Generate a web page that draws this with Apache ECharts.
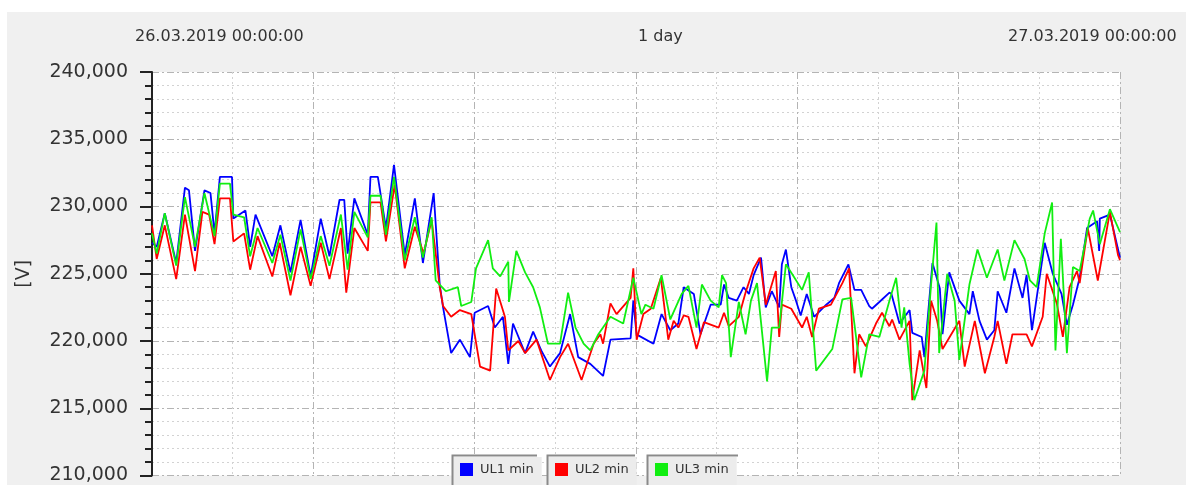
<!DOCTYPE html>
<html>
<head>
<meta charset="utf-8">
<script src="https://cdn.jsdelivr.net/npm/echarts@6/dist/echarts.min.js"></script>
<style>
html,body{margin:0;padding:0;background:#fff;}
#chart{width:1186px;height:485px;}
</style>
</head>
<body>
<div id="chart"></div>
<script>
// time in minutes from 26.03.2019 00:00, voltage in V
const seriesNames = ['UL1 min', 'UL2 min', 'UL3 min'];
const topLabels = ['26.03.2019 00:00:00', '1 day', '27.03.2019 00:00:00'];
const yAxisName = '[V]';

const ul1Time = [0,7,19,36,49,55,64,78,87,93,101,119,121,139,146,154,179,191,206,221,236,251,264,279,286,291,301,321,325,336,348,360,376,391,403,419,428,433,445,458,473,480,500,510,522,530,537,555,567,579,592,607,622,634,652,671,682,712,716,721,724,746,758,771,783,791,806,816,831,846,851,858,870,880,888,895,906,913,922,933,937,943,951,958,965,974,985,1003,1015,1022,1036,1045,1055,1067,1071,1082,1097,1100,1112,1127,1131,1145,1149,1161,1172,1176,1186,1201,1216,1221,1231,1242,1253,1258,1271,1283,1295,1301,1309,1328,1340,1353,1361,1370,1380,1391,1406,1409,1410,1425,1440];
const ul1Volt = [227.3,227.0,229.5,225.8,231.4,231.2,226.7,231.2,231.0,228.0,232.2,232.2,229.1,229.7,227.0,229.4,226.3,228.6,225.1,229.0,224.8,229.1,226.3,230.5,230.5,226.5,230.6,227.9,232.2,232.2,228.4,233.1,226.4,230.6,225.8,231.0,224.2,222.5,219.1,220.1,218.8,222.1,222.6,221.0,221.8,218.3,221.3,219.1,220.7,219.3,218.1,219.1,222.0,218.8,218.3,217.4,220.1,220.2,223.0,220.4,220.4,219.8,222.0,220.8,221.3,224.0,223.5,220.5,222.7,222.7,224.2,223.2,223.0,224.0,223.5,224.9,226.2,222.5,223.7,222.5,225.7,226.8,224.0,223.0,221.9,223.5,221.8,222.7,223.2,224.3,225.7,223.8,223.8,222.6,222.4,222.9,223.6,223.5,221.3,222.3,220.6,220.3,218.8,225.8,223.9,220.5,225.1,223.0,222.0,223.7,221.5,220.1,220.8,223.7,222.1,225.4,223.2,224.9,220.8,227.3,225.0,223.5,221.2,222.7,224.7,228.4,228.9,226.7,229.1,229.4,226.2];

const ul2Time = [0,7,19,36,49,64,75,85,93,101,116,121,137,146,157,179,190,206,221,236,251,264,281,289,301,321,325,340,348,361,376,391,404,416,428,433,445,458,475,488,503,512,525,530,545,555,572,592,607,619,639,657,667,671,682,691,712,716,721,731,742,757,768,776,783,791,798,810,821,843,851,858,873,883,895,904,913,928,933,937,951,967,974,982,992,1010,1027,1037,1045,1052,1062,1077,1086,1097,1101,1112,1127,1131,1142,1152,1159,1168,1176,1201,1209,1224,1239,1253,1258,1271,1280,1301,1309,1325,1331,1346,1355,1365,1376,1380,1392,1407,1425,1437,1440];
const ul2Volt = [228.6,226.1,228.6,224.6,229.4,225.2,229.6,229.4,227.2,230.6,230.6,227.4,228.0,225.3,227.8,224.8,227.3,223.4,227.0,224.1,227.3,224.6,228.4,223.6,228.4,226.7,230.3,230.3,227.4,231.6,225.4,228.5,226.5,229.0,224.0,222.6,221.8,222.3,222.0,218.1,217.8,223.9,221.8,219.3,220.0,219.1,220.1,217.1,218.8,219.8,217.1,219.8,220.5,219.8,222.8,222.0,223.2,225.4,220.1,222.0,222.4,224.7,220.1,221.5,221.0,221.9,221.8,219.4,221.4,221.0,222.1,221.1,221.8,223.6,225.4,226.2,222.7,225.2,220.3,222.7,222.4,221.0,221.8,220.3,222.4,222.7,224.3,225.4,217.6,220.5,219.6,221.3,222.1,221.1,221.6,220.1,221.5,215.6,219.3,216.5,223.0,221.5,219.4,221.5,218.1,221.5,217.6,220.3,221.5,218.3,220.5,220.5,219.6,221.8,225.0,222.8,220.3,224.0,225.2,224.3,228.4,224.5,229.6,226.4,226.0];

const ul3Time = [0,7,19,36,49,64,78,93,101,116,121,137,146,157,179,191,206,221,236,251,264,281,291,301,321,325,340,348,360,376,391,403,416,422,437,455,460,475,482,500,507,518,530,531,542,555,567,577,589,607,619,630,642,652,664,682,701,716,728,734,746,758,771,788,798,810,818,831,843,848,854,861,873,883,891,900,915,922,933,943,952,967,977,988,1012,1027,1040,1055,1067,1082,1097,1107,1115,1119,1127,1134,1149,1159,1167,1171,1183,1194,1201,1216,1228,1242,1258,1268,1283,1298,1306,1316,1328,1339,1344,1352,1361,1370,1380,1395,1400,1410,1425,1440];
const ul3Volt = [228.0,226.5,229.5,225.6,230.7,227.0,231.0,227.8,231.7,231.7,229.4,229.2,226.3,228.4,225.8,227.9,224.5,228.3,224.6,227.8,225.6,229.4,225.3,229.6,227.7,230.8,230.8,227.9,232.2,226.0,229.2,226.2,229.2,224.5,223.7,224.0,222.6,222.9,225.4,227.5,225.4,224.8,225.9,222.9,226.7,225.1,224.0,222.5,219.8,219.8,223.6,221.0,219.8,219.3,220.5,221.8,221.3,224.7,222.0,222.7,222.4,224.9,221.6,223.5,224.1,221.0,224.2,223.0,222.5,224.9,224.3,218.8,222.9,220.5,223.0,224.3,217.0,221.0,221.0,225.7,225.0,223.8,225.1,217.8,219.4,223.1,223.2,217.3,220.5,220.3,223.0,224.7,221.0,222.5,218.3,215.6,217.8,224.2,228.8,219.1,225.0,223.0,218.6,224.2,226.8,224.7,226.8,224.5,227.5,226.1,224.5,224.0,228.0,230.3,219.3,227.6,219.1,225.5,225.2,229.1,229.7,227.2,229.8,228.1];

const seriesColors = ['#0000ff', '#ff0000', '#11ee11'];
const times = [ul1Time, ul2Time, ul3Time];
const volts = [ul1Volt, ul2Volt, ul3Volt];

const chart = echarts.init(document.getElementById('chart'), null, {renderer: 'canvas'});
const FONT = 'DejaVu Sans';
const majorLine = {color: '#b4b4b4', width: 1, type: [7, 3, 2, 3]};
const minorLine = {color: '#d2d2d2', width: 1, type: [2, 3]};

const legendLefts = [452, 547, 647];
const legendWidths = [85, 88, 91];
const legends = seriesNames.map((n, i) => ({
  data: [n], left: legendLefts[i], top: 457, orient: 'horizontal',
  icon: 'rect', itemWidth: 13, itemHeight: 13,
  padding: [6, 8, 10, 8], backgroundColor: '#ececec', borderWidth: 0,
  selectedMode: false,
  textStyle: {fontFamily: FONT, fontSize: 13, color: '#333', padding: [0, 0, 0, 2]}
}));

const frames = legendLefts.map((l, i) => ({
  type: 'polyline', z: 200,
  shape: {points: [[l + 0.5, 486], [l + 0.5, 455.5], [l + legendWidths[i], 455.5]]},
  style: {stroke: '#8a8a8a', lineWidth: 2, fill: null}
}));

chart.setOption({
  animation: false,
  backgroundColor: '#f0f0f0',
  grid: {left: 152, right: 66, top: 72, bottom: 5, show: true, backgroundColor: '#ffffff', borderWidth: 0},
  xAxis: {
    type: 'value', min: 0, max: 1440, interval: 240,
    axisLine: {show: false}, axisTick: {show: false}, axisLabel: {show: false},
    splitLine: {show: true, lineStyle: majorLine},
    minorTick: {show: true, splitNumber: 2, length: 0},
    minorSplitLine: {show: true, lineStyle: minorLine}
  },
  yAxis: {
    type: 'value', min: 210, max: 240, interval: 5,
    name: yAxisName, nameLocation: 'middle', nameRotate: 90, nameGap: 118,
    nameTextStyle: {fontFamily: FONT, fontSize: 19, color: '#333'},
    axisLine: {show: true, lineStyle: {color: '#222', width: 2}},
    axisTick: {show: true, inside: false, length: 12, lineStyle: {color: '#222', width: 2}},
    minorTick: {show: true, splitNumber: 5, length: 7, lineStyle: {color: '#222', width: 2}},
    axisLabel: {fontFamily: FONT, fontSize: 19, color: '#333', margin: 24,
      formatter: v => v.toFixed(3).replace('.', ',')},
    splitLine: {show: true, lineStyle: majorLine},
    minorSplitLine: {show: true, lineStyle: minorLine}
  },
  legend: legends,
  graphic: [
    {type: 'rect', shape: {x: 0, y: 0, width: 1186, height: 12}, style: {fill: '#ffffff'}, z: 0},
    {type: 'rect', shape: {x: 0, y: 0, width: 7, height: 485}, style: {fill: '#ffffff'}, z: 0},
    {type: 'text', left: 135, top: 29, style: {text: topLabels[0], font: '16px "DejaVu Sans"', fill: '#333'}},
    {type: 'text', left: 638, top: 29, style: {text: topLabels[1], font: '16px "DejaVu Sans"', fill: '#333'}},
    {type: 'text', left: 1008, top: 29, style: {text: topLabels[2], font: '16px "DejaVu Sans"', fill: '#333'}}
  ].concat(frames),
  series: seriesNames.map((n, i) => ({
    name: n, type: 'line', showSymbol: false, symbol: 'none',
    data: times[i].map((t, k) => [t, volts[i][k]]),
    lineStyle: {color: seriesColors[i], width: 1.8},
    itemStyle: {color: seriesColors[i]}
  }))
});
</script>
</body>
</html>
